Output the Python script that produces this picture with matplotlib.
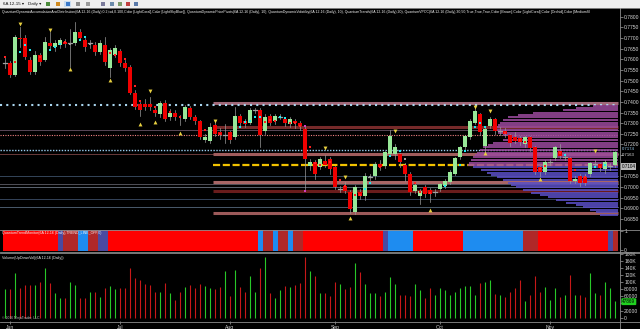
import matplotlib
matplotlib.use('Agg')
import matplotlib.pyplot as plt
from matplotlib.lines import Line2D
from matplotlib.patches import Rectangle

plt.rcParams['font.family'] = ['Liberation Sans', 'DejaVu Sans']

# ---------------- data ----------------
opens = [0.7584,0.7584,0.7528,0.7700,0.7700,0.7598,0.7542,0.7621,0.7598,0.7677,
0.7658,0.7668,0.7682,0.7677,0.7677,0.7729,0.7691,0.7677,0.7668,0.7635,
0.7668,0.7560,0.7621,0.7640,0.7584,0.7565,0.7444,0.7388,0.7388,0.7392,
0.7364,0.7341,0.7397,0.7327,0.7350,0.7331,0.7318,0.7369,0.7327,0.7308,
0.7220,0.7215,0.7290,0.7257,0.7248,0.7257,0.7234,0.7336,0.7308,0.7303,
0.7364,0.7364,0.7262,0.7336,0.7308,0.7331,0.7318,0.7294,0.7308,0.7303,
0.7271,0.7098,0.7117,0.7093,0.7121,0.7131,0.7093,0.6995,0.7004,0.6976,
0.6883,0.6976,0.6958,0.7051,0.7051,0.7107,0.7098,0.7154,0.7154,0.7154,
0.7103,0.7061,0.6981,0.6958,0.7000,0.6986,0.6977,0.6991,0.7004,0.7023,
0.7061,0.7140,0.7187,0.7234,0.7303,0.7341,0.7192,0.7285,0.7318,0.7266,
0.7262,0.7243,0.7234,0.7229,0.7201,0.7234,0.7187,0.7093,0.7070,0.7121,
0.7135,0.7168,0.7145,0.7135,0.7028,0.7051,0.7047,0.7061,0.7112,0.7107,
0.7084,0.7103,0.7103]
closes = [0.7584,0.7528,0.7705,0.7696,0.7612,0.7542,0.7621,0.7588,0.7682,0.7663,
0.7677,0.7691,0.7672,0.7675,0.7729,0.7700,0.7658,0.7675,0.7635,0.7677,
0.7588,0.7644,0.7654,0.7584,0.7560,0.7444,0.7378,0.7364,0.7374,0.7374,
0.7350,0.7397,0.7318,0.7350,0.7327,0.7327,0.7374,0.7327,0.7308,0.7234,
0.7234,0.7280,0.7248,0.7243,0.7245,0.7220,0.7336,0.7299,0.7294,0.7364,
0.7362,0.7243,0.7331,0.7303,0.7336,0.7329,0.7299,0.7318,0.7299,0.7285,
0.7131,0.7117,0.7061,0.7131,0.7103,0.7084,0.6999,0.6993,0.6981,0.6897,
0.7000,0.6958,0.7051,0.7049,0.7107,0.7093,0.7163,0.7238,0.7187,0.7117,
0.7061,0.6976,0.7009,0.6981,0.6967,0.6967,0.6975,0.7014,0.7028,0.7070,
0.7135,0.7187,0.7238,0.7308,0.7355,0.7257,0.7271,0.7318,0.7262,0.7264,
0.7248,0.7206,0.7215,0.7210,0.7234,0.7182,0.7070,0.7070,0.7117,0.7119,
0.7187,0.7145,0.7143,0.7028,0.7037,0.7018,0.7018,0.7112,0.7110,0.7089,
0.7117,0.7101,0.7163]
highs = [0.7611,0.7592,0.7712,0.7752,0.7716,0.7610,0.7640,0.7630,0.7705,0.7728,
0.7690,0.7700,0.7695,0.7740,0.7775,0.7740,0.7700,0.7690,0.7680,0.7690,
0.7705,0.7655,0.7665,0.7650,0.7595,0.7572,0.7455,0.7400,0.7415,0.7425,
0.7380,0.7405,0.7408,0.7365,0.7362,0.7340,0.7385,0.7380,0.7340,0.7315,
0.7248,0.7300,0.7305,0.7275,0.7295,0.7265,0.7375,0.7345,0.7320,0.7372,
0.7372,0.7372,0.7345,0.7345,0.7345,0.7345,0.7330,0.7328,0.7318,0.7312,
0.7280,0.7130,0.7125,0.7140,0.7150,0.7140,0.7100,0.7005,0.7025,0.6985,
0.7010,0.6990,0.7065,0.7060,0.7118,0.7125,0.7170,0.7270,0.7200,0.7160,
0.7115,0.7070,0.7020,0.6990,0.7010,0.6995,0.6990,0.7020,0.7040,0.7080,
0.7140,0.7195,0.7245,0.7320,0.7370,0.7350,0.7285,0.7330,0.7325,0.7280,
0.7275,0.7250,0.7260,0.7240,0.7242,0.7240,0.7195,0.7100,0.7128,0.7130,
0.7195,0.7200,0.7160,0.7142,0.7050,0.7062,0.7060,0.7120,0.7125,0.7115,
0.7125,0.7115,0.7170]
lows = [0.7560,0.7519,0.7522,0.7658,0.7600,0.7530,0.7532,0.7575,0.7590,0.7650,
0.7640,0.7655,0.7660,0.7563,0.7665,0.7690,0.7640,0.7655,0.7622,0.7625,
0.7575,0.7515,0.7610,0.7570,0.7545,0.7435,0.7368,0.7335,0.7360,0.7360,
0.7335,0.7330,0.7310,0.7315,0.7315,0.7290,0.7310,0.7318,0.7295,0.7225,
0.7210,0.7205,0.7238,0.7225,0.7205,0.7205,0.7225,0.7285,0.7280,0.7295,
0.7350,0.7190,0.7250,0.7290,0.7298,0.7318,0.7285,0.7280,0.7275,0.7270,
0.6990,0.7080,0.7040,0.7085,0.7095,0.7060,0.6990,0.6975,0.6970,0.6880,
0.6875,0.6945,0.6940,0.7035,0.7040,0.7080,0.7090,0.7145,0.7130,0.7095,
0.7030,0.6965,0.6970,0.6920,0.6955,0.6930,0.6960,0.6980,0.6995,0.7015,
0.7055,0.7130,0.7180,0.7225,0.7295,0.7245,0.7165,0.7275,0.7250,0.7245,
0.7235,0.7195,0.7205,0.7198,0.7190,0.7170,0.7060,0.7050,0.7060,0.7105,
0.7128,0.7135,0.7125,0.7020,0.7020,0.7005,0.7010,0.7050,0.7100,0.7075,
0.7065,0.7080,0.7095]
volume_k = [80,80,126,83,92,92,92,100,140,97,
69,55,55,100,92,55,55,73,71,57,
83,89,80,83,83,140,112,106,95,92,
73,71,99,69,50,71,85,92,83,95,
89,83,80,85,130,62,135,85,73,118,
73,140,170,69,55,78,89,87,92,97,
172,130,118,69,69,62,101,95,80,85,
155,128,95,69,69,62,73,115,95,64,
64,62,95,78,55,83,64,83,78,64,
73,83,89,89,64,97,101,106,67,64,
59,73,83,106,48,64,118,73,85,50,
83,59,64,120,64,64,59,125,69,64,
101,83,48]

# trend monitor state runs: (state, number of bars)
trend_runs = [('R',11),('S',1),('F',3),('B',2),('F',2),('S',2),('R',30),('B',1),
              ('F',2),('B',1),('F',2),('B',1),('F',2),('R',16),('S',1),('B',5),
              ('R',10),('B',12),('F',3),('R',14),('S',1),('F',1)]

month_labels = ['Jun', 'Jul', 'Aug', 'Sep', 'Oct', 'Nov']
month_pos = [1, 23, 45, 66, 87, 109]

price_ticks = [0.6850,0.6900,0.6950,0.7000,0.7050,0.7100,0.7150,0.7200,0.7250,0.7300,
               0.7350,0.7400,0.7450,0.7500,0.7550,0.7600,0.7650,0.7700,0.7750,0.7800]
hidden_price_ticks = [0.7100, 0.7150]          # covered by the value flags
vol_ticks_k = [0, 20, 40, 60, 80, 100, 120, 140, 160, 180]
vol_tick_labels = ['0', '20000', '', '60000', '80000', '100K', '120K', '140K', '160K', '180K']

cyan_idx = [3,4,5,9,10,11,15,16,47,48,49,50,51,55,56,72,73,77,79,88,91,92,94,95,96,112,118,120]
cyan_px = [0.7634,0.7667,0.7644,0.7644,0.7658,0.7672,0.7691,0.7705,0.7283,0.7307,0.7312,0.7330,0.7329,
           0.7330,0.7324,0.6991,0.7019,0.7146,0.7171,0.7005,0.7104,0.7171,0.7283,0.7299,0.7283,
           0.7151,0.7093,0.7104]
red_idx = [0,2,7,12,21,22,24,26,27,30,33,35,40,43,52,53,54,57,58,59,61,62,63,65,67,68,70,71,75,82,
           83,85,100,103,104,107,108,111,114,116,119]
red_px = [0.7611,0.7587,0.7611,0.7681,0.7630,0.7620,0.7601,0.7475,0.7406,0.7377,0.7354,0.7330,0.7268,
          0.7249,0.7307,0.7315,0.7310,0.7302,0.7302,0.7288,0.7188,0.7113,0.7104,0.7119,0.7033,0.7005,
          0.6963,0.6963,0.7096,0.7020,0.6978,0.6974,0.7255,0.7221,0.7213,0.7083,0.7099,0.7161,0.7080,
          0.7046,0.7093]
grey_idx = [13, 17, 73, 80]
grey_px = [0.7672, 0.7672, 0.7047, 0.7132]
magenta_idx = [60, 60]
magenta_px = [0.7287, 0.6981]
pivot_hi_idx = [3, 9, 29, 42, 64, 68, 78, 94, 97, 118]
pivot_hi_px = [0.7766, 0.7738, 0.7451, 0.7310, 0.7182, 0.7047, 0.7263, 0.7376, 0.7359, 0.7169]
pivot_lo_idx = [13, 21, 27, 30, 35, 69, 85, 96, 107]
pivot_lo_px = [0.7554, 0.7503, 0.7296, 0.7306, 0.7254, 0.6855, 0.6892, 0.7160, 0.7038]

sky_major = 0.7383
sky_minor = 0.7174
coral_level = 0.7244
poc_price = 0.7102
poc_label = 0.7104
thin_levels = [0.7268, 0.7153, 0.7052, 0.7014, 0.7000, 0.6944, 0.6906]
zone_levels = [0.7393, 0.7282, 0.7155, 0.7022, 0.6982, 0.6877]
zone_start = 42

vp_prices = [0.7381,0.7371,0.7362,0.7350,0.7338,0.7327,0.7315,0.7303,0.7291,0.7280,0.7268,0.7256,
             0.7244,0.7233,0.7221,0.7209,0.7198,0.7186,0.7174,0.7162,0.7151,0.7139,0.7127,0.7115,
             0.7104,0.7092,0.7080,0.7068,0.7057,0.7045,0.7033,0.7021,0.7010,0.6998,0.6986,0.6974,
             0.6963,0.6951,0.6939,0.6927,0.6916,0.6904,0.6892,0.6881,0.6869]
vp_len = [5,8.4,11,17,20,22,23,23.6,24,24.4,24.6,24,23,22,23,25,26,27,27.6,28.2,28.6,29,29.4,29.8,
          30,29,27.4,26.2,25.4,24.2,23,22,21.4,20.4,19,17.4,15.6,14,12.4,10.4,8.4,7,5.6,4.4,3.6]

last_volume = 47869

title = ("QuantumDynamicAccumulationAndDistribution(6A 12-16 (Daily),0.2,tsd,0.100,Color [LightCoral],"
         "Color [LightSkyBlue]), QuantumDynamicPricePivots(6A 12-16 (Daily), 10), "
         "QuantumDynamicVolatility(6A 12-16 (Daily), 10), QuantumTrends(6A 12-16 (Daily),20), "
         "QuantumVPOC(6A 12-16 (Daily),30,50,True,True,True,Color [Brown],Color [LightCoral],"
         "Color [Orchid],Color [MediumSl")

# ---------------- figure ----------------
W, H = 640, 329
fig = plt.figure(figsize=(6.4, 3.29), dpi=100)
fig.patch.set_facecolor('black')

def fy(y):
    return 1 - y / H

def fx(x):
    return x / W

AXW = fx(620)
ax = fig.add_axes([0, fy(227), AXW, (227 - 14) / H])
axt = fig.add_axes([0, fy(251), AXW, 21 / H])
axv = fig.add_axes([0, fy(321), AXW, 68 / H])

n = len(closes)
xs = list(range(n))
TXT = '#D8D8D8'
for a in (ax, axt, axv):
    a.set_facecolor('black')
    for s in a.spines.values():
        s.set_visible(False)
    a.set_xlim(-1, 123)
    a.yaxis.tick_right()
    a.tick_params(axis='y', direction='out', length=2, width=0.5, colors='#A0A0A0',
                  labelsize=3.6, pad=1, labelcolor=TXT)
    a.tick_params(axis='x', bottom=False, labelbottom=False)

# ---------- main price panel ----------
ax.set_ylim(0.68124, 0.78127)
ax.set_yticks(price_ticks)
ax.set_yticklabels(['' if t in hidden_price_ticks else '%.4f' % t for t in price_ticks])

right_end = n - 0.5
for lv, col in zip(thin_levels, ['#5A4858', '#6A3A3A', '#34465A', '#505058', '#5A6470', '#34445A', '#4A5A6C']):
    ax.plot([-1, right_end], [lv, lv], color=col, lw=0.7, zorder=1)
for lv, col in zip(zone_levels, ['#A06878', '#762A2A', '#A05C5C', '#A86666', '#6A1C1C', '#9C5A5A']):
    ax.plot([zone_start - 0.5, right_end], [lv, lv], color=col, lw=2.2, solid_capstyle='butt', zorder=1.5)
ax.plot([-1, right_end], [coral_level, coral_level], color='#F08080', lw=0.8, dashes=(1, 1.2), zorder=2)
ax.plot([zone_start - 0.5, right_end], [poc_price, poc_price], color='#F2C200', lw=1.6,
        dashes=(3.2, 1.2), zorder=2)
ax.plot([-1, right_end], [sky_major, sky_major], color='#A8D4EE', lw=1.5, dashes=(1, 2), zorder=2)
ax.plot([-1, right_end], [sky_minor, sky_minor], color='#9ACDF0', lw=1.0, dashes=(1, 1.1), zorder=2)

# volume profile
step = 0.00115
for p, L in zip(vp_prices, vp_len):
    col = '#9A4A9C' if p >= 0.7095 else '#5A4EC4'
    ax.barh(p, L, left=right_end - L, height=step * 0.82, color=col, alpha=0.85,
            edgecolor='none', zorder=3)

# candles
UP, DN, DJ = '#98E898', '#F00000', '#A0A0A0'
for i in xs:
    o, c, h, l = opens[i], closes[i], highs[i], lows[i]
    ax.plot([i, i], [l, h], color='#9A9A9A', lw=0.5, zorder=4)
    if abs(c - o) < 0.0003:
        ax.plot([i - 0.38, i + 0.38], [c, c], color=DJ, lw=0.9, zorder=5)
    else:
        col = UP if c > o else DN
        ax.bar(i, abs(c - o), bottom=min(o, c), width=0.74, color=col, edgecolor='none', zorder=5)

ax.plot(cyan_idx, cyan_px, 's', color='#20E8F0', ms=2.0, mew=0, zorder=6)
ax.plot(red_idx, red_px, 's', color='#FF2020', ms=2.0, mew=0, zorder=6)
ax.plot(grey_idx, grey_px, 's', color='#A0A0A0', ms=2.0, mew=0, zorder=6)
ax.plot(magenta_idx, magenta_px, 's', color='#D040C0', ms=1.8, mew=0, zorder=6)
ax.plot(pivot_hi_idx, pivot_hi_px, 'v', color='#E8D040', ms=2.8, mew=0, zorder=6)
ax.plot(pivot_lo_idx, pivot_lo_px, '^', color='#E8D040', ms=2.8, mew=0, zorder=6)

# right-axis value flags
ax.text(123.35, 0.71785, '%.4f' % sky_minor, fontsize=3.1, color='#9ACDF0',
        va='center', ha='left', clip_on=False)
ax.text(123.35, 0.71525, '%.4f' % closes[-1], fontsize=3.1, color='#E8E8E8',
        va='center', ha='left', clip_on=False)
ax.text(123.35, 0.70965, '%.4f' % poc_label, fontsize=3.3, color='#000000',
        va='center', ha='left', clip_on=False,
        bbox=dict(boxstyle='square,pad=0.15', fc='#B8B8B8', ec='none'))

# ---------- trend monitor panel ----------
tcol = {'R': '#FF0000', 'B': '#1E8CF0', 'F': '#B02828', 'S': '#4A4AA0'}
pos = 0
for st, cnt in trend_runs:
    axt.bar(range(pos, pos + cnt), 1.16, bottom=-0.08, width=1.0, color=tcol[st],
            edgecolor='none')
    pos += cnt
axt.set_ylim(-0.08, 1.08)
axt.set_yticks([0, 1])
axt.set_yticklabels(['0', '1'])
axt.text(0.003, 0.86, 'QuantumTrendMonitor(6A 12-16 (Daily),TREND_LINE_OFF,0)', transform=axt.transAxes,
         fontsize=2.6, color='#F0F0F0', va='center')

# ---------- volume panel ----------
vcols = ['#28C828' if c >= o - 0.0003 else '#C81818' for o, c in zip(opens, closes)]
axv.vlines(xs, 0, volume_k, colors=vcols, lw=0.8)
axv.set_ylim(-9.3, 182)
axv.set_yticks(vol_ticks_k)
axv.set_yticklabels(vol_tick_labels)
axv.text(0.003, 0.93, 'Volume(UpDownVol)(6A 12-16 (Daily))', transform=axv.transAxes,
         fontsize=2.6, color='#F0F0F0', va='center')
axv.text(123.45, volume_k[-1] - 3, '%d' % last_volume, fontsize=3.3, color='#000000',
         va='center', ha='left', clip_on=False,
         bbox=dict(boxstyle='round,pad=0.2', fc='#20D020', ec='none'))
axv.set_xticks(month_pos)
axv.set_xticklabels(month_labels)
axv.tick_params(axis='x', bottom=True, labelbottom=True, direction='out', length=2, width=0.5,
                colors='#A0A0A0', labelsize=3.6, pad=1, labelcolor=TXT)
fig.text(fx(2), fy(318.5), '\u00a9 2016 NinjaTrader, LLC', fontsize=2.4, color='#C8C8C8', va='center')

# ---------- frame lines ----------
def fline(x0, y0, x1, y1, col='#8C8C8C', lw=0.6):
    fig.add_artist(Line2D([fx(x0), fx(x1)], [fy(y0), fy(y1)], color=col, lw=lw,
                          transform=fig.transFigure))

fline(620, 8, 620, 329)
fline(0, 229.5, 640, 229.5)
fline(0, 251.5, 640, 251.5)
fline(0, 253, 640, 253)
fline(0, 321.5, 640, 321.5)

# ---------- toolbar & title ----------
fig.add_artist(Rectangle((0, fy(8)), 1, 8 / H, transform=fig.transFigure, fc='#EEEEEE', ec='none'))
fline(0, 8, 640, 8, col='#B0B0B0', lw=0.5)
fig.text(fx(3), fy(4), '6A 12-15 \u25be', fontsize=3.2, color='#101010', va='center')
fig.text(fx(28), fy(4), 'Daily \u25be', fontsize=3.2, color='#101010', va='center')
icon_x = [46, 56, 66, 76, 86, 101, 110, 118, 126, 134]
icon_c = ['#4A8A3A', '#D08A20', '#3A78C8', '#8A8A8A', '#9A9A9A', '#7A7A9A', '#6A8AAA',
          '#7A9A6A', '#C04040', '#5A7AAA']
fig.add_artist(Rectangle((fx(64), fy(7)), 7 / W, 6 / H, transform=fig.transFigure,
                         fc='#C8DCF0', ec='none'))
for xi, ci in zip(icon_x, icon_c):
    fig.add_artist(Rectangle((fx(xi), fy(6)), 4 / W, 4 / H, transform=fig.transFigure,
                             fc=ci, ec='none'))
fig.text(fx(2), fy(11.8), title, fontsize=2.55, color='#F4F4F4', va='center')

fig.savefig('out.png', dpi=100, facecolor='black')
